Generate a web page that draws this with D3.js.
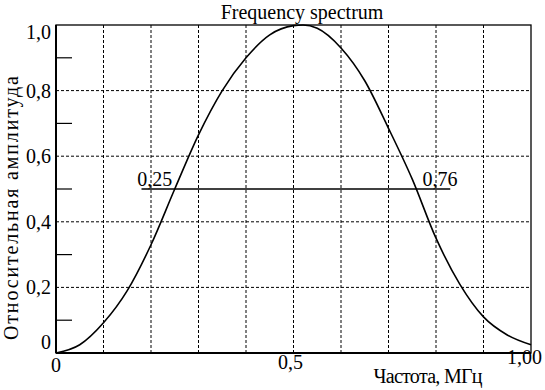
<!DOCTYPE html>
<html>
<head>
<meta charset="utf-8">
<script src="https://cdn.jsdelivr.net/npm/d3@7"></script>
<style>
  body { margin: 0; background: #fff; }
</style>
</head>
<body>
<div id="chart"></div>
<script>
// values
var freq = [0, 0.05, 0.1, 0.15, 0.2, 0.25, 0.3, 0.35, 0.4, 0.45, 0.5, 0.52, 0.55, 0.6, 0.65, 0.7, 0.75, 0.8, 0.85, 0.9, 0.95, 1.0];
var amp  = [0, 0.025, 0.092, 0.19, 0.33, 0.5, 0.665, 0.8, 0.9, 0.97, 0.998, 1.0, 0.99, 0.93, 0.83, 0.685, 0.53, 0.35, 0.21, 0.11, 0.055, 0.025];
var levelX = [0.18, 0.83];
var level = 0.5;
var marks = [0.25, 0.76];
var markLabels = ["0,25", "0,76"];
var yTicks = [0, 0.2, 0.4, 0.6, 0.8, 1.0];
var yTickLabels = ["0", "0,2", "0,4", "0,6", "0,8", "1,0"];
var yMinor = [0.1, 0.3, 0.5, 0.7, 0.9];
var xGrid = [0.1, 0.2, 0.3, 0.4, 0.5, 0.6, 0.7, 0.8, 0.9];
var xTicks = [0, 0.5, 1.0];
var xTickLabels = ["0", "0,5", "1,00"];

var font = "'Liberation Serif'";

var svgWidth = 545, svgHeight = 390;
var margin = {top: 25, right: 14, bottom: 37, left: 56};
var width = svgWidth - margin.left - margin.right;
var height = svgHeight - margin.top - margin.bottom;

var svg = d3.select("#chart").append("svg")
  .attr("width", svgWidth)
  .attr("height", svgHeight);

var g = svg.append("g")
  .attr("transform", `translate(${margin.left}, ${margin.top})`);

var x = d3.scaleLinear().domain([0, 1]).range([0, width]);
var y = d3.scaleLinear().domain([0, 1]).range([height, 0]);

// dashed grid
g.selectAll(".vgrid").data(xGrid).enter().append("line")
  .attr("x1", d => x(d)).attr("x2", d => x(d))
  .attr("y1", 0).attr("y2", height)
  .attr("stroke", "#000").attr("stroke-width", 1)
  .attr("stroke-dasharray", "3,2");

g.selectAll(".hgrid").data(yTicks.slice(1, -1)).enter().append("line")
  .attr("x1", 0).attr("x2", width)
  .attr("y1", d => y(d)).attr("y2", d => y(d))
  .attr("stroke", "#000").attr("stroke-width", 1)
  .attr("stroke-dasharray", "3,2");

// minor ticks on the left
g.selectAll(".minor").data(yMinor).enter().append("line")
  .attr("x1", 0).attr("x2", 16)
  .attr("y1", d => y(d)).attr("y2", d => y(d))
  .attr("stroke", "#000").attr("stroke-width", 1.2);

// frame
g.append("rect")
  .attr("width", width).attr("height", height)
  .attr("fill", "none").attr("stroke", "#000").attr("stroke-width", 1.3);
g.append("line").attr("x1", 0).attr("x2", 0).attr("y1", 0).attr("y2", height)
  .attr("stroke", "#000").attr("stroke-width", 2);
g.append("line").attr("x1", 0).attr("x2", width).attr("y1", height).attr("y2", height)
  .attr("stroke", "#000").attr("stroke-width", 2);

// y tick labels
var yDy = [-4, 7, 7, 7, 7, 14];
g.selectAll(".ylab").data(yTicks).enter().append("text")
  .attr("x", -5)
  .attr("y", d => y(d))
  .attr("dy", (d, i) => yDy[i])
  .attr("text-anchor", "end")
  .style("font-family", font).style("font-size", "20px")
  .text((d, i) => yTickLabels[i]);

// x tick labels
var xDy = [19, 16, 11];
var xDx = [0, -3, -8];
var xAnchor = ["middle", "middle", "end"];
g.selectAll(".xlab").data(xTicks).enter().append("text")
  .attr("x", (d, i) => x(d) + (i === 2 ? margin.right - 3 : xDx[i]))
  .attr("y", (d, i) => height + xDy[i])
  .attr("text-anchor", (d, i) => xAnchor[i])
  .style("font-family", font).style("font-size", "20px")
  .text((d, i) => xTickLabels[i]);

// level line
g.append("line")
  .attr("x1", x(levelX[0])).attr("x2", x(levelX[1]))
  .attr("y1", y(level)).attr("y2", y(level))
  .attr("stroke", "#000").attr("stroke-width", 1.5);

var markDx = [-20, 23];
g.selectAll(".mark").data(marks).enter().append("text")
  .attr("x", (d, i) => x(d) + markDx[i])
  .attr("y", y(level) - 3)
  .attr("text-anchor", "middle")
  .style("font-family", font).style("font-size", "20px")
  .text((d, i) => markLabels[i]);

// curve
var line = d3.line()
  .x((d, i) => x(freq[i]))
  .y(d => y(d))
  .curve(d3.curveMonotoneX);

g.append("path")
  .datum(amp)
  .attr("d", line)
  .attr("fill", "none")
  .attr("stroke", "#000")
  .attr("stroke-width", 1.6);

// titles
svg.append("text")
  .attr("x", 302).attr("y", 19)
  .attr("text-anchor", "middle")
  .style("font-family", font).style("font-size", "20px")
  .text("Frequency spectrum");

svg.append("text")
  .attr("x", 428).attr("y", 383)
  .attr("text-anchor", "middle")
  .attr("textLength", 109)
  .style("font-family", font).style("font-size", "20px")
  .text("Частота, МГц");

svg.append("text")
  .attr("transform", "translate(18, 208) rotate(-90)")
  .attr("text-anchor", "middle")
  .attr("textLength", 264)
  .style("font-family", font).style("font-size", "20px")
  .text("Относительная амплитуда");
</script>
</body>
</html>
